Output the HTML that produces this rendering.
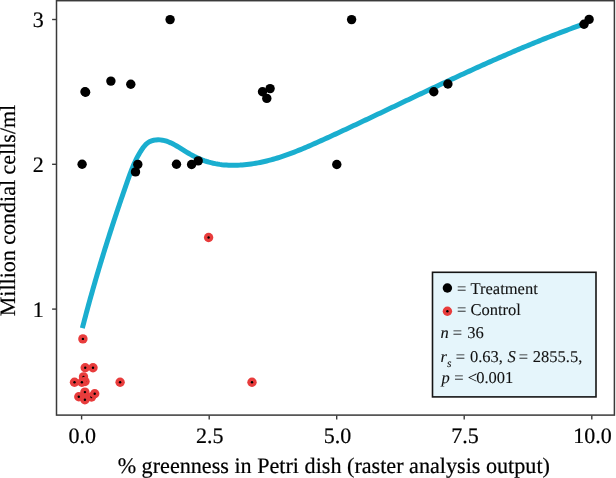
<!DOCTYPE html>
<html><head><meta charset="utf-8"><style>
html,body{margin:0;padding:0;background:#fff;}
svg{display:block;will-change:transform;}
text{font-family:"Liberation Serif",serif;fill:#000;stroke:#000;stroke-width:0.2px;text-rendering:geometricPrecision;}
.lg text{stroke-width:0.1px;fill:#111;stroke:#111;}
</style></head><body>
<svg width="616" height="478" viewBox="0 0 616 478">
<rect x="0" y="0" width="616" height="478" fill="#fff"/>
<g>
<path d="M82.35,328.15 L82.91,325.97 L83.48,323.80 L84.05,321.62 L84.62,319.45 L85.19,317.28 L85.77,315.11 L86.35,312.94 L86.93,310.77 L87.52,308.60 L88.11,306.44 L88.70,304.27 L89.29,302.11 L89.89,299.95 L90.49,297.79 L91.10,295.63 L91.71,293.47 L92.32,291.31 L92.93,289.15 L93.55,287.00 L94.17,284.84 L94.79,282.69 L95.41,280.53 L96.04,278.38 L96.67,276.23 L97.31,274.08 L97.94,271.93 L98.58,269.78 L99.23,267.63 L99.87,265.49 L100.52,263.34 L101.17,261.20 L101.82,259.05 L102.48,256.91 L103.14,254.77 L103.80,252.63 L104.46,250.49 L105.13,248.35 L105.80,246.21 L106.47,244.07 L107.14,241.93 L107.82,239.79 L108.50,237.66 L109.18,235.52 L109.87,233.39 L110.55,231.25 L111.24,229.12 L111.94,226.99 L112.63,224.85 L113.33,222.72 L114.03,220.59 L114.73,218.46 L115.43,216.33 L116.14,214.20 L116.85,212.07 L117.56,209.95 L118.27,207.82 L118.99,205.69 L119.71,203.57 L120.43,201.44 L121.15,199.31 L121.88,197.19 L122.61,195.07 L123.33,192.94 L124.07,190.82 L124.80,188.69 L125.54,186.57 L126.28,184.45 L127.02,182.33 L127.76,180.21 L128.51,178.09 L129.27,175.98 L130.05,173.87 L130.84,171.77 L131.66,169.68 L132.49,167.60 L133.36,165.53 L134.26,163.48 L135.20,161.44 L136.17,159.42 L137.19,157.42 L138.25,155.44 L139.36,153.49 L140.53,151.55 L141.75,149.65 L143.04,147.78 L144.42,146.00 L145.93,144.36 L147.59,142.92 L149.45,141.73 L151.52,140.84 L153.72,140.25 L155.95,139.90 L158.14,139.78 L160.30,139.87 L162.43,140.15 L164.53,140.61 L166.61,141.22 L168.66,141.96 L170.69,142.83 L172.71,143.80 L174.71,144.86 L176.70,145.99 L178.68,147.18 L180.65,148.39 L182.62,149.63 L184.59,150.87 L186.56,152.09 L188.54,153.27 L190.52,154.41 L192.51,155.49 L194.51,156.52 L196.53,157.49 L198.55,158.41 L200.59,159.27 L202.64,160.07 L204.71,160.82 L206.80,161.50 L208.91,162.13 L211.03,162.70 L213.18,163.21 L215.34,163.66 L217.53,164.05 L219.73,164.38 L221.94,164.66 L224.17,164.89 L226.40,165.06 L228.65,165.19 L230.90,165.26 L233.16,165.29 L235.42,165.27 L237.69,165.21 L239.96,165.11 L242.22,164.96 L244.48,164.77 L246.74,164.54 L248.99,164.28 L251.23,163.98 L253.46,163.65 L255.68,163.28 L257.89,162.88 L260.10,162.45 L262.29,161.99 L264.48,161.50 L266.65,160.98 L268.82,160.44 L270.99,159.86 L273.14,159.26 L275.28,158.64 L277.42,157.99 L279.56,157.32 L281.68,156.63 L283.80,155.92 L285.91,155.19 L288.02,154.44 L290.12,153.67 L292.22,152.88 L294.31,152.08 L296.39,151.26 L298.48,150.43 L300.55,149.59 L302.63,148.73 L304.69,147.87 L306.76,146.99 L308.82,146.10 L310.88,145.21 L312.94,144.30 L314.99,143.40 L317.04,142.48 L319.09,141.56 L321.14,140.64 L323.18,139.72 L325.23,138.79 L327.27,137.86 L329.31,136.93 L331.35,136.00 L333.39,135.06 L335.43,134.12 L337.46,133.18 L339.50,132.24 L341.53,131.30 L343.56,130.35 L345.60,129.41 L347.63,128.46 L349.66,127.51 L351.69,126.56 L353.72,125.61 L355.75,124.65 L357.78,123.70 L359.80,122.74 L361.83,121.79 L363.86,120.83 L365.88,119.87 L367.91,118.91 L369.94,117.95 L371.96,116.99 L373.99,116.03 L376.01,115.07 L378.04,114.11 L380.07,113.14 L382.09,112.18 L384.12,111.22 L386.14,110.25 L388.16,109.29 L390.19,108.33 L392.21,107.36 L394.24,106.40 L396.26,105.43 L398.29,104.47 L400.31,103.50 L402.34,102.54 L404.36,101.57 L406.39,100.61 L408.41,99.65 L410.44,98.68 L412.46,97.72 L414.49,96.76 L416.52,95.79 L418.54,94.83 L420.57,93.87 L422.60,92.91 L424.62,91.95 L426.65,90.99 L428.68,90.03 L430.71,89.07 L432.74,88.12 L434.77,87.16 L436.80,86.21 L438.83,85.25 L440.86,84.30 L442.89,83.35 L444.92,82.40 L446.95,81.45 L448.98,80.50 L451.02,79.55 L453.05,78.61 L455.09,77.67 L457.12,76.72 L459.16,75.78 L461.19,74.84 L463.23,73.91 L465.27,72.97 L467.31,72.04 L469.35,71.11 L471.39,70.17 L473.43,69.25 L475.47,68.32 L477.52,67.40 L479.56,66.47 L481.60,65.55 L483.65,64.64 L485.70,63.72 L487.74,62.81 L489.79,61.90 L491.84,60.99 L493.89,60.08 L495.95,59.18 L498.00,58.27 L500.05,57.38 L502.11,56.48 L504.17,55.59 L506.22,54.70 L508.28,53.81 L510.34,52.92 L512.41,52.04 L514.47,51.16 L516.53,50.29 L518.60,49.41 L520.66,48.54 L522.73,47.68 L524.80,46.81 L526.87,45.95 L528.94,45.10 L531.02,44.24 L533.09,43.39 L535.17,42.54 L537.25,41.70 L539.33,40.86 L541.41,40.03 L543.49,39.19 L545.58,38.37 L547.66,37.54 L549.75,36.72 L551.84,35.90 L553.93,35.09 L556.02,34.28 L558.12,33.48 L560.21,32.67 L562.31,31.88 L564.41,31.08 L566.51,30.30 L568.62,29.51 L570.72,28.73 L572.83,27.96 L574.94,27.19 L577.05,26.42 L579.16,25.66 L581.28,24.90 L583.40,24.15 L585.51,23.40" fill="none" stroke="#1aaecf" stroke-width="5"/>
<circle cx="85.0" cy="91.8" r="4.70"/>
<circle cx="85.6" cy="92.2" r="4.70"/>
<circle cx="110.9" cy="81.1" r="4.70"/>
<circle cx="130.8" cy="84.2" r="4.70"/>
<circle cx="170.1" cy="19.6" r="4.70"/>
<circle cx="82.1" cy="164.3" r="4.70"/>
<circle cx="137.8" cy="164.4" r="4.70"/>
<circle cx="135.5" cy="171.9" r="4.70"/>
<circle cx="176.5" cy="164.3" r="4.70"/>
<circle cx="191.6" cy="164.5" r="4.70"/>
<circle cx="198.2" cy="160.9" r="4.70"/>
<circle cx="262.5" cy="91.7" r="4.70"/>
<circle cx="270.1" cy="88.6" r="4.70"/>
<circle cx="266.8" cy="98.4" r="4.70"/>
<circle cx="351.6" cy="19.6" r="4.70"/>
<circle cx="336.8" cy="164.5" r="4.70"/>
<circle cx="433.8" cy="91.8" r="4.70"/>
<circle cx="447.9" cy="84.0" r="4.70"/>
<circle cx="584.0" cy="24.3" r="4.70"/>
<circle cx="589.1" cy="19.4" r="4.70"/>
<circle cx="82.9" cy="338.9" r="4.70" fill="#e83c3c"/><circle cx="82.9" cy="338.9" r="1.2"/>
<circle cx="85.2" cy="367.7" r="4.70" fill="#e83c3c"/><circle cx="85.2" cy="367.7" r="1.2"/>
<circle cx="93.0" cy="367.7" r="4.70" fill="#e83c3c"/><circle cx="93.0" cy="367.7" r="1.2"/>
<circle cx="83.5" cy="376.9" r="4.70" fill="#e83c3c"/><circle cx="83.5" cy="376.9" r="1.2"/>
<circle cx="74.5" cy="382.2" r="4.70" fill="#e83c3c"/><circle cx="74.5" cy="382.2" r="1.2"/>
<circle cx="85.0" cy="381.5" r="4.70" fill="#e83c3c"/><circle cx="85.0" cy="381.5" r="1.2"/>
<circle cx="81.9" cy="382.2" r="4.70" fill="#e83c3c"/><circle cx="81.9" cy="382.2" r="1.2"/>
<circle cx="84.9" cy="392.1" r="4.70" fill="#e83c3c"/><circle cx="84.9" cy="392.1" r="1.2"/>
<circle cx="78.8" cy="396.7" r="4.70" fill="#e83c3c"/><circle cx="78.8" cy="396.7" r="1.2"/>
<circle cx="91.5" cy="397.0" r="4.70" fill="#e83c3c"/><circle cx="91.5" cy="397.0" r="1.2"/>
<circle cx="94.7" cy="393.7" r="4.70" fill="#e83c3c"/><circle cx="94.7" cy="393.7" r="1.2"/>
<circle cx="84.9" cy="399.7" r="4.70" fill="#e83c3c"/><circle cx="84.9" cy="399.7" r="1.2"/>
<circle cx="120.1" cy="382.2" r="4.70" fill="#e83c3c"/><circle cx="120.1" cy="382.2" r="1.2"/>
<circle cx="252.0" cy="382.2" r="4.70" fill="#e83c3c"/><circle cx="252.0" cy="382.2" r="1.2"/>
<circle cx="208.6" cy="237.5" r="4.70" fill="#e83c3c"/><circle cx="208.6" cy="237.5" r="1.2"/>
</g>
<rect x="56.5" y="0.7" width="557.9" height="414.4" fill="none" stroke="#3a3a3a" stroke-width="1.5"/>
<g stroke="#3a3a3a" stroke-width="1.4">
<line x1="81.6" y1="415.5" x2="81.6" y2="419.5"/>
<line x1="209.2" y1="415.5" x2="209.2" y2="419.5"/>
<line x1="336.7" y1="415.5" x2="336.7" y2="419.5"/>
<line x1="464.2" y1="415.5" x2="464.2" y2="419.5"/>
<line x1="591.8" y1="415.5" x2="591.8" y2="419.5"/>
<line x1="52.1" y1="309.1" x2="56" y2="309.1"/>
<line x1="52.1" y1="164.3" x2="56" y2="164.3"/>
<line x1="52.1" y1="19.5" x2="56" y2="19.5"/>
</g>
<g font-size="22">
<text x="82.3" y="443" text-anchor="middle">0.0</text>
<text x="209.8" y="443" text-anchor="middle">2.5</text>
<text x="337.4" y="443" text-anchor="middle">5.0</text>
<text x="464.9" y="443" text-anchor="middle">7.5</text>
<text x="592.5" y="443" text-anchor="middle">10.0</text>
<text x="43.7" y="316.5" text-anchor="end">1</text>
<text x="43.7" y="171.7" text-anchor="end">2</text>
<text x="43.7" y="26.9" text-anchor="end">3</text>
</g>
<text x="117.65" y="472.9" font-size="22.15">% greenness in Petri dish (raster analysis output)</text>
<text transform="translate(15.3,316.2) rotate(-90)" font-size="22">Million condial cells/ml</text>
<g>
<rect x="432.5" y="272.3" width="163.5" height="124.6" fill="#e5f5fb" stroke="#151515" stroke-width="1.6"/>
<circle cx="447.4" cy="288" r="4.70"/>
<circle cx="447.4" cy="311.2" r="4.70" fill="#e83c3c"/><circle cx="447.4" cy="311.2" r="1.2"/>
<g font-size="16.5" class="lg">
<text x="457.0" y="293.8">=</text>
<text x="470.5" y="293.8">Treatment</text>
<text x="457.0" y="315.1">=</text>
<text x="470.5" y="315.1">Control</text>
<text x="440.4" y="337.7" font-style="italic">n</text>
<text x="452.7" y="337.7">=</text>
<text x="467.3" y="337.7">36</text>
<text x="440.6" y="361.5" font-style="italic">r</text>
<text x="447.1" y="366.5" font-style="italic" font-size="11.5">s</text>
<text x="455.7" y="361.5">=</text>
<text x="469.9" y="361.5">0.63,</text>
<text x="507.6" y="361.5" font-style="italic">S</text>
<text x="518.8" y="361.5">=</text>
<text x="532.8" y="361.5">2855.5,</text>
<text x="441.6" y="383.1" font-style="italic">p</text>
<text x="454.2" y="383.1">=</text>
<text x="467.7" y="383.1">&lt;</text>
<text x="476.2" y="383.1">0.001</text>
</g>
</g>
</svg>
</body></html>
